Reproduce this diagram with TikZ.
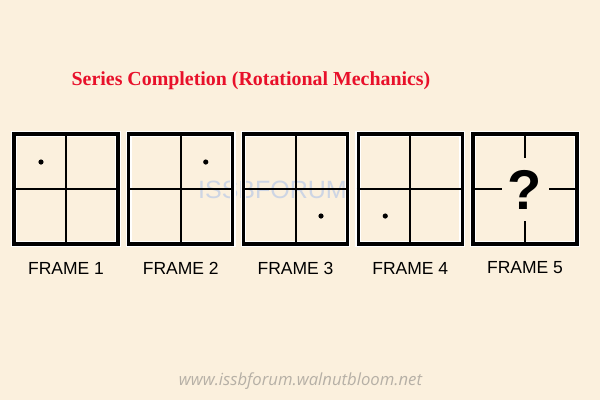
\documentclass[tikz,border=0pt]{standalone}
\usepackage{fontspec}
\usetikzlibrary{calc}
\setmainfont{Liberation Serif}
\newfontfamily\labelfont{Liberation Sans}
\newfontfamily\footfont{Open Sans}
\definecolor{bgcol}{RGB}{251,240,221}
\definecolor{titlered}{RGB}{232,16,42}
\definecolor{footgray}{RGB}{182,176,166}
\definecolor{wmark}{RGB}{205,213,228}
\tikzset{
  framebox/.style={draw=black, line width=3.4pt, minimum width=104pt, minimum height=110pt, inner sep=0pt},
  halo/.style={draw=white, line width=5.6pt, minimum width=104pt, minimum height=110pt, inner sep=0pt},
  inner/.style={draw=black, line width=2pt},
  dotmark/.style={fill=black},
  framelabel/.style={font=\labelfont\fontsize{17.5}{20}\selectfont, text=black},
}
\begin{document}
\begin{tikzpicture}[x=1pt,y=-1pt]
\fill[bgcol] (0,0) rectangle (600,400);
\useasboundingbox (0,0) rectangle (600,400);
% title
\node[font=\bfseries\fontsize{19.9}{22}\selectfont, text=titlered] (title) at (251,81) {Series Completion (Rotational Mechanics)};
% watermark
\node[font=\labelfont\fontsize{25}{28}\selectfont, text=wmark] (wm) at (272.5,189.5) {ISSBFORUM};
% frames
\foreach \i/\cx in {1/66,2/180.75,3/295.5,4/410.25,5/525} {
  \node[halo] at (\cx,189) {};
  \node[framebox] (f\i) at (\cx,189) {};
  \node[framelabel] (l\i) at (\cx,268) {FRAME \i};
}
\foreach \i in {1,2,3,4} {
  \draw[inner] (f\i.north) -- (f\i.south);
  \draw[inner] (f\i.west) -- (f\i.east);
}
\fill[dotmark] ($(f1.center)+(-25,-27)$) circle (2.6pt);
\fill[dotmark] ($(f2.center)+(25,-27)$) circle (2.6pt);
\fill[dotmark] ($(f3.center)+(25.5,27)$) circle (2.6pt);
\fill[dotmark] ($(f4.center)+(-25,27)$) circle (2.6pt);
% frame 5
\node[font=\labelfont\bfseries\fontsize{56}{60}\selectfont] (q) at (525,190) {?};
\coordinate (vt) at ($(f5.center)+(0,-31)$);
\coordinate (vb) at ($(f5.center)+(0,32)$);
\coordinate (hl) at ($(f5.center)+(-23,0)$);
\coordinate (hr) at ($(f5.center)+(24,0)$);
\draw[inner] (f5.north) -- (vt);
\draw[inner] (vb) -- (f5.south);
\draw[inner] (f5.west) -- (hl);
\draw[inner] (hr) -- (f5.east);
% footer
\node[font=\footfont\itshape\fontsize{16.7}{19}\selectfont, text=footgray] (foot) at (300.5,381) {www.issbforum.walnutbloom.net};
\end{tikzpicture}
\end{document}
